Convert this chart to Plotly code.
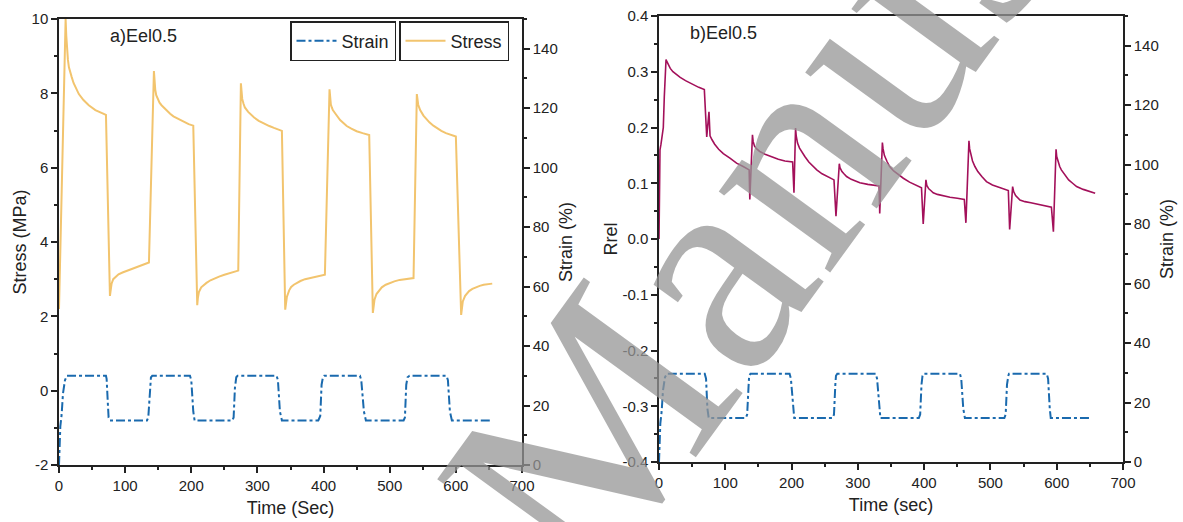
import plotly.graph_objects as go

# ---------------- data ----------------
# Panel a: stress (MPa) vs time (s)
stress_t = [0, 10, 11, 12, 13.5, 15, 17, 19, 22, 25, 30, 37, 45, 55, 65, 71,
            77, 78, 79.5, 82, 85, 90, 96, 102, 110, 118, 126, 136,
            143.5, 144.5, 145.5, 147, 149, 152, 155, 158, 163, 168, 173, 178, 184, 190, 196, 203,
            209, 210, 211.5, 215, 219, 223, 229, 235, 242, 250, 258, 265, 271,
            275, 276, 277, 279, 281, 286, 290, 295, 302, 310, 318, 325, 331, 337,
            342, 343, 344.5, 348, 351, 355, 360, 365, 372, 380, 388, 395, 402,
            409, 410, 411, 412.5, 414, 418, 421, 425, 430, 435, 442, 450, 459, 469,
            474.5, 475.5, 477, 480, 484, 488, 494, 500, 507, 515, 525, 536,
            541, 542, 543, 544.5, 546, 551, 555, 560, 566, 572, 578, 585, 592, 600,
            608, 609, 610.5, 614, 617, 620, 625, 630, 636, 642, 648, 655]
stress_v = [2.2, 10.0, 9.55, 9.2, 8.9, 8.7, 8.55, 8.45, 8.28, 8.15, 7.98, 7.82, 7.68, 7.55, 7.46, 7.42,
            2.55, 2.75, 2.88, 3.0, 3.06, 3.13, 3.18, 3.22, 3.27, 3.32, 3.37, 3.45,
            8.6, 8.3, 8.1, 7.95, 7.85, 7.75, 7.68, 7.62, 7.53, 7.45, 7.38, 7.33, 7.27, 7.22, 7.17, 7.13,
            2.3, 2.5, 2.65, 2.78, 2.85, 2.9, 2.97, 3.02, 3.07, 3.12, 3.16, 3.2, 3.23,
            8.27, 8.0, 7.85, 7.72, 7.62, 7.5, 7.43, 7.35, 7.26, 7.18, 7.12, 7.07, 7.03, 6.99,
            2.18, 2.38, 2.52, 2.7, 2.79, 2.85, 2.91, 2.95, 3.0, 3.03, 3.07, 3.1, 3.12,
            8.11, 7.85, 7.7, 7.62, 7.55, 7.45, 7.38, 7.28, 7.2, 7.12, 7.05, 6.98, 6.93, 6.88,
            2.09, 2.3, 2.45, 2.6, 2.7, 2.78, 2.85, 2.9, 2.94, 2.98, 3.01, 3.03,
            7.98, 7.82, 7.7, 7.62, 7.55, 7.4, 7.32, 7.22, 7.13, 7.05, 6.99, 6.93, 6.88, 6.84,
            2.04, 2.25, 2.4, 2.55, 2.62, 2.68, 2.74, 2.78, 2.82, 2.85, 2.87, 2.88]

# Panel a: strain (%) vs time (s)
strain_a_t = [0, 1, 2, 4, 6, 9, 12, 71, 72, 74, 75, 77, 133, 135, 137, 139, 141,
              198, 200, 203, 205, 262, 264, 266, 268, 270, 329, 331, 334, 337,
              392, 395, 397, 399, 401, 455, 457, 461, 464, 521, 523, 525, 527, 530,
              586, 588, 591, 594, 654]
strain_a_v = [0, 8, 13, 17, 24, 28.5, 30, 30, 29, 20, 16, 15, 15, 16, 25, 29.5, 30,
              30, 28.5, 18, 15, 15, 16, 26, 29.5, 30, 30, 28.5, 18, 15,
              15, 16.5, 27, 29.5, 30, 30, 28.5, 18, 15, 15, 16, 27, 29.5, 30,
              30, 28.5, 18, 15, 15]

# Panel b: Rrel vs time (s)
rrel_t = [0, 1.5, 3, 6.5, 8, 10.6, 12, 14, 17, 21, 26, 32, 40, 51.8, 60, 68.4,
          72, 75.4, 77, 80, 84, 90, 97, 107, 117, 127, 136,
          137, 141, 142, 144, 147, 152, 160, 170, 180, 190, 201.6,
          203.6, 206, 207, 209, 212, 215, 220, 226, 232, 238, 246, 255, 264,
          267, 272, 273, 276, 279, 283, 290, 297, 303, 315, 332,
          333, 337, 338, 340, 344, 348, 354, 361, 368.6, 378, 387, 396,
          398.6, 402.7, 404, 407, 410, 413.7, 420, 430, 439, 450, 460.6,
          463, 467.6, 468.6, 470.5, 473, 476.6, 481, 487, 494, 503, 514, 527,
          529, 533.5, 535, 538, 544.5, 552, 561, 570, 581, 592,
          595, 599, 600, 602, 604.5, 607, 612, 618, 624, 630, 640, 650, 658]
rrel_v = [0.0, 0.16, 0.17, 0.2, 0.255, 0.322, 0.318, 0.312, 0.306, 0.3, 0.295, 0.29, 0.284, 0.276, 0.272, 0.268,
          0.183, 0.228, 0.185, 0.178, 0.17, 0.161, 0.153, 0.145, 0.136, 0.13, 0.124,
          0.071, 0.187, 0.175, 0.167, 0.162, 0.157, 0.152, 0.147, 0.143, 0.14, 0.138,
          0.083, 0.199, 0.185, 0.172, 0.163, 0.157, 0.148, 0.138, 0.13, 0.124, 0.117, 0.111, 0.106,
          0.041, 0.135, 0.128, 0.121, 0.117, 0.112, 0.107, 0.104, 0.101, 0.098, 0.095,
          0.046, 0.173, 0.162, 0.15, 0.139, 0.13, 0.122, 0.115, 0.109, 0.102, 0.097, 0.092,
          0.027, 0.106, 0.096, 0.09, 0.087, 0.083, 0.08, 0.077, 0.075, 0.073, 0.071,
          0.029, 0.176, 0.162, 0.15, 0.14, 0.13, 0.121, 0.112, 0.103, 0.097, 0.092, 0.087,
          0.017, 0.094, 0.085, 0.078, 0.07, 0.067, 0.065, 0.063, 0.06, 0.057,
          0.013, 0.161, 0.148, 0.138, 0.13, 0.124, 0.115, 0.106, 0.1, 0.094, 0.089, 0.085, 0.082]

# Panel b: strain (%) vs time (s)
strain_b_t = [0, 1, 2, 4, 6, 9, 12, 69, 71, 73, 75, 131, 133, 135, 136, 138,
              197, 199, 202, 204, 262, 264, 266, 267, 269, 327, 329, 332, 334,
              392, 394, 396, 397.5, 399, 454, 456, 459, 461.5, 521, 523, 525, 527, 528,
              585, 587, 589.5, 591, 653]
strain_b_v = [0, 8, 13, 17, 24, 28.5, 29.7, 29.7, 28, 18, 14.8, 14.8, 16, 25, 29, 29.7,
              29.7, 28, 18, 14.8, 14.8, 16, 26, 29, 29.7, 29.7, 28, 18, 14.8,
              14.8, 16, 26, 29, 29.7, 29.7, 28, 18, 14.8, 14.8, 16, 26, 29, 29.7,
              29.7, 28, 18, 14.8, 14.8]

# tick labels (hyphen minus as in the reference)
stress_tickvals = [-2, 0, 2, 4, 6, 8, 10]
stress_ticktext = ["-2", "0", "2", "4", "6", "8", "10"]
rrel_tickvals = [-0.4, -0.3, -0.2, -0.1, 0.0, 0.1, 0.2, 0.3, 0.4]
rrel_ticktext = ["-0.4", "-0.3", "-0.2", "-0.1", "0.0", "0.1", "0.2", "0.3", "0.4"]

# ---------------- styling ----------------
W, H = 1183, 522
FONT = "Liberation Sans, Arial, sans-serif"
INK = "#222222"
C_STRESS = "#F2C46E"
C_STRAIN = "#1A6AAE"
C_RREL = "#A3105A"
DASHDOT = "9px,3px,3px,3px"


def px_x(p):
    return p / W


def px_y(p):
    return 1 - p / H


fig = go.Figure()

fig.add_trace(go.Scatter(x=strain_a_t, y=strain_a_v, mode="lines", name="Strain",
                         line=dict(color=C_STRAIN, width=2, dash=DASHDOT),
                         xaxis="x", yaxis="y2", legend="legend"))
fig.add_trace(go.Scatter(x=stress_t, y=stress_v, mode="lines", name="Stress",
                         line=dict(color=C_STRESS, width=2),
                         xaxis="x", yaxis="y", legend="legend2"))
fig.add_trace(go.Scatter(x=rrel_t, y=rrel_v, mode="lines", name="Rrel",
                         line=dict(color=C_RREL, width=1.6),
                         xaxis="x2", yaxis="y3", showlegend=False))
fig.add_trace(go.Scatter(x=strain_b_t, y=strain_b_v, mode="lines", name="Strain",
                         line=dict(color=C_STRAIN, width=2, dash=DASHDOT),
                         xaxis="x2", yaxis="y4", showlegend=False))

axis_common = dict(showgrid=False, zeroline=False, showline=True, linecolor=INK,
                   linewidth=1.5, ticks="outside", ticklen=6, tickwidth=1.5,
                   tickcolor=INK, tickfont=dict(family=FONT, size=15, color=INK),
                   automargin=False)
title_font = dict(family=FONT, size=18, color=INK)

xa_dom = [px_x(59), px_x(522)]
xb_dom = [px_x(659), px_x(1123)]
ya_dom = [px_y(465), px_y(19)]
yb_dom = [px_y(462), px_y(16)]

fig.update_layout(
    width=W, height=H,
    margin=dict(l=0, r=0, t=0, b=0),
    paper_bgcolor="white", plot_bgcolor="white",
    font=dict(family=FONT, color=INK),
    xaxis=dict(axis_common, domain=xa_dom, range=[0, 700], dtick=100, anchor="y",
               mirror=True,
               minor=dict(ticks="outside", ticklen=3, dtick=50, tickcolor=INK),
               title=dict(text="Time (Sec)", font=title_font, standoff=9)),
    yaxis=dict(axis_common, domain=ya_dom, range=[-2, 10], anchor="x",
               tickmode="array", tickvals=stress_tickvals, ticktext=stress_ticktext,
               minor=dict(ticks="outside", ticklen=3, dtick=1, tickcolor=INK),
               title=dict(text="Stress (MPa)", font=title_font, standoff=0)),
    yaxis2=dict(axis_common, range=[0, 150], dtick=20, tick0=0, anchor="x",
                overlaying="y", side="right",
                minor=dict(ticks="outside", ticklen=3, dtick=10, tickcolor=INK),
                title=dict(text="Strain (%)", font=title_font, standoff=3)),
    xaxis2=dict(axis_common, domain=xb_dom, range=[0, 700], dtick=100, anchor="y3",
                mirror=True,
                minor=dict(ticks="outside", ticklen=3, dtick=50, tickcolor=INK),
                title=dict(text="Time (sec)", font=title_font, standoff=9)),
    yaxis3=dict(axis_common, domain=yb_dom, range=[-0.4, 0.4], anchor="x2",
                tickmode="array", tickvals=rrel_tickvals, ticktext=rrel_ticktext,
                minor=dict(ticks="outside", ticklen=3, tick0=0, dtick=0.05, tickcolor=INK),
                title=dict(text="Rrel", font=title_font, standoff=0)),
    yaxis4=dict(axis_common, range=[0, 150], dtick=20, tick0=0, anchor="x2",
                overlaying="y3", side="right",
                minor=dict(ticks="outside", ticklen=3, dtick=10, tickcolor=INK),
                title=dict(text="Strain (%)", font=title_font, standoff=3)),
    legend=dict(x=px_x(290), y=px_y(21), xanchor="left", yanchor="top",
                bgcolor="white", bordercolor=INK, borderwidth=1.5,
                font=dict(family=FONT, size=18, color=INK), itemwidth=40,
                tracegroupgap=0),
    legend2=dict(x=px_x(399), y=px_y(21), xanchor="left", yanchor="top",
                 bgcolor="white", bordercolor=INK, borderwidth=1.5,
                 font=dict(family=FONT, size=18, color=INK), itemwidth=40,
                 tracegroupgap=0),
    annotations=[
        dict(text="a)Eel0.5", x=px_x(143), y=px_y(36), xref="paper", yref="paper",
             xanchor="center", yanchor="middle",
             showarrow=False, font=dict(family=FONT, size=18, color=INK)),
        dict(text="b)Eel0.5", x=px_x(723), y=px_y(33), xref="paper", yref="paper",
             xanchor="center", yanchor="middle",
             showarrow=False, font=dict(family=FONT, size=18, color=INK)),
        dict(text="Accepted Manuscript", x=px_x(556), y=px_y(478), xref="paper",
             yref="paper", xanchor="center", yanchor="middle",
             showarrow=False, textangle=-54,
             font=dict(family="Liberation Serif, Times New Roman, serif", size=300,
                       color="rgba(150,150,150,0.75)")),
    ],
)

fig.write_html("out.html")
